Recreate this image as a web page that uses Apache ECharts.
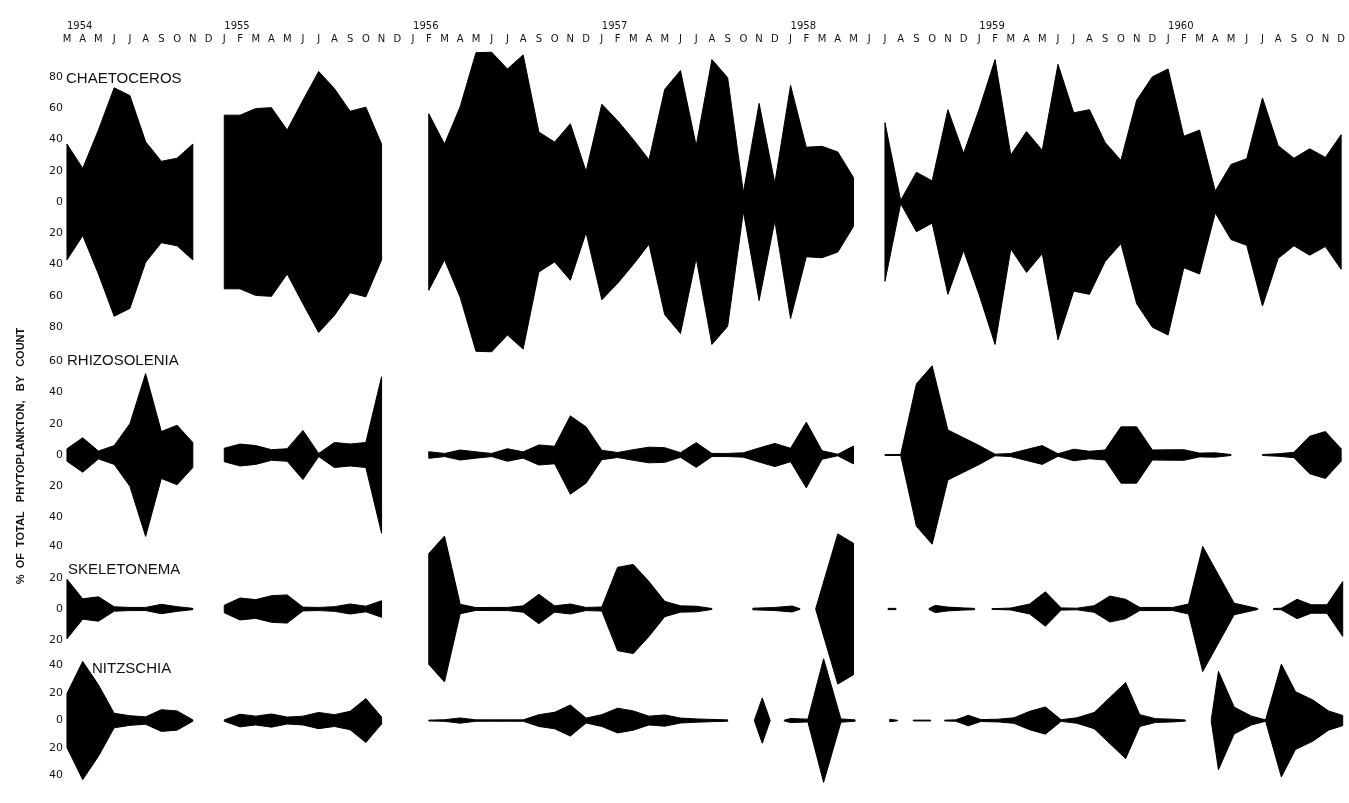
<!DOCTYPE html>
<html>
<head>
<meta charset="utf-8">
<script src="https://cdn.jsdelivr.net/npm/echarts/dist/echarts.min.js"></script>
<style>
html, body { margin: 0; padding: 0; background: #fff; }
#chart { width: 1349px; height: 803px; }
</style>
</head>
<body>
<div id="chart"></div>
<script>
// 月ラベル (1954年3月〜1960年12月)
const monthLetters = ['J', 'F', 'M', 'A', 'M', 'J', 'J', 'A', 'S', 'O', 'N', 'D'];
const years = ['1954', '1955', '1956', '1957', '1958', '1959', '1960'];
const firstMonth = 2; // 1954年はMから
const monthCount = 82;

const speciesNames = ['CHAETOCEROS', 'RHIZOSOLENIA', 'SKELETONEMA', 'NITZSCHIA'];
const yTitle = '%  OF  TOTAL   PHYTOPLANKTON,   BY   COUNT';

// 目盛りラベル (中心から外側へ、下側は負)
const chaetocerosTicks = [80, 60, 40, 20, 0, -20, -40, -60, -80];
const rhizosoleniaTicks = [60, 40, 20, 0, -20, -40];
const skeletonemaTicks = [40, 20, 0, -20];
const nitzschiaTicks = [40, 20, 0, -20, -40];

// 各セグメント: [開始月 or 月位置の配列, 値の配列]  (月0 = 1954年3月)
const chaetoceros = [
    [0, [37, 21.5, 46, 73, 68, 38.5, 26, 28, 37]],
    [10, [55.5, 55.5, 59.7, 60.3, 46, 65, 83.4, 72.5, 58, 60.6, 37]],
    [23, [56.4, 37, 61, 95.4, 95.7, 85, 94, 44.7, 38.3, 50, 19.5, 62.5, 52, 40, 27, 72, 84, 36, 91, 79.5, 6, 63, 12, 74.5, 35, 35.6, 32, 15.6]],
    [52, [50.7, 1, 19, 13.5, 59, 31, 59.6, 91, 30, 45, 33, 88, 57, 59, 38, 26.6, 65, 80, 85, 42, 46, 7, 24, 27.7, 66.5, 36, 28, 34, 28.5, 43]]
];

const rhizosolenia = [
    [0, [4, 11, 2.5, 6, 20, 52, 15, 19, 8]],
    [10, [4.3, 7, 6, 3.4, 4, 15.7, 1, 8, 7, 8, 50]],
    [23, [2.1, 1, 3.2, 2, 1, 4, 2, 6.4, 5.6, 25, 18, 3, 1.6, 3.4, 5, 4.7, 1.5, 7.9, 1, 1, 1.4, 4.5, 7.4, 4.3, 21, 2.7, 0.5, 5.7]],
    [52, [0.3, 0.3, 45.5, 57, 16, 11, 6, 0.5, 1, 3.5, 6, 0.8, 3.7, 2.4, 3.2, 18, 18, 3.2, 3.3, 3.4, 1.2, 1.4, 0.3]],
    [76, [0.3, 0.8, 1.7, 12, 15, 4]]
];

const skeletonema = [
    [0, [19, 6.5, 7.8, 1.4, 1, 1, 3, 1.5, 0.4]],
    [10, [2.4, 7, 6, 8.5, 9, 1.2, 1, 1.5, 3.2, 1.8, 5.3]],
    [23, [35.4, 46.6, 3, 0.9, 1, 1, 2, 9.4, 2, 3.2, 1, 1.3, 26.6, 28.5, 17.5, 4.9, 2, 1.8, 0.3]],
    [[43.6, 45, 46.1, 46.6], [0.5, 1, 1.9, 0.2]],
    [[47.6, 49, 50], [0.3, 48, 42]],
    [[52.2, 52.7], [0.4, 0.4]],
    [[54.8, 55.2, 56, 57, 57.7], [0.3, 2.3, 1.2, 0.7, 0.4]],
    [[58.8, 60, 61.2, 62.2, 63.2, 64.2, 65.3, 66.3, 67.3, 68.2, 70.3, 71.3, 72.2, 74.2, 75.7],
     [0.2, 0.6, 3.2, 11, 0.7, 0.5, 2.1, 8.3, 6.2, 1, 1, 3.2, 40, 3.7, 0.3]],
    [[76.7, 77.2, 78.2, 79.1, 80.1, 81.1], [0.3, 0.5, 6.2, 2.7, 2.7, 17.5]]
];

const nitzschia = [
    [0, [19.7, 43, 26, 5.3, 3.5, 2.7, 7.9, 7, 0.5]],
    [10, [0.5, 4.6, 3.2, 4.8, 2.5, 3.2, 5.9, 4.3, 6.7, 16, 2.5]],
    [23, [0.3, 0.6, 1.9, 0.5, 0.5, 0.5, 0.5, 4.3, 6, 11.3, 1.8, 4.3, 9, 7, 3.2, 4.1, 1.8, 1.2, 0.8, 0.5]],
    [[43.7, 44.2, 44.7], [0.2, 16.5, 0.2]],
    [[45.6, 46, 47.1, 48.1, 49.2, 50.1], [0.3, 1.5, 1, 45, 1.2, 0.5]],
    [[52.3, 52.8], [0.9, 0.2]],
    [[53.8, 54.9], [0.3, 0.3]],
    [[55.8, 56.5, 57.3, 58.1, 59.2, 60.2, 61.2, 62.2, 63.2, 64.2, 65.3, 67.3, 68.2, 69.2, 70.3, 71.1],
     [0.3, 0.5, 3.8, 0.7, 1, 2, 6.7, 9.9, 0.6, 2, 5.9, 27.7, 4.3, 1.4, 1, 0.4]],
    [[72.75, 73.2, 74.2, 75.3, 76.2, 77.2, 78.1, 79.2, 80.2, 81.1], [1, 35.8, 9.8, 3.2, 0.5, 41, 21, 15, 7, 3.7]]
];

// レイアウト
const MONTH_PX = 15.78;
const PX_PER_UNIT = 1.565;
const GRID_LEFT = 67 - 0.5 * MONTH_PX;
const GRID_WIDTH = monthCount * MONTH_PX;
const FONT = 'DejaVu Sans';

const panels = [
    { data: chaetoceros, ticks: chaetocerosTicks, center: 202, range: 100, label: [66, 80] },
    { data: rhizosolenia, ticks: rhizosoleniaTicks, center: 455, range: 60, label: [67, 362] },
    { data: skeletonema, ticks: skeletonemaTicks, center: 609, range: 60, label: [68, 571] },
    { data: nitzschia, ticks: nitzschiaTicks, center: 732, range: 60, label: [92, 670] }
];

// 月ラベルと年ラベル
const monthKeys = [];
const monthLabels = [];
const yearLabels = [];
for (let i = 0; i < monthCount; i++) {
    const abs = firstMonth + i;
    monthKeys.push(String(i));
    monthLabels.push(monthLetters[abs % 12]);
    yearLabels.push(abs % 12 === 0 || i === 0 ? years[Math.floor(abs / 12)] : '');
}

// セグメントを [月位置, 値] の点列に展開
function segmentPoints(seg) {
    const pos = seg[0];
    return seg[1].map((v, j) => [Array.isArray(pos) ? pos[j] : pos + j, v]);
}

const grid = [];
const xAxis = [];
const yAxis = [];
const series = [];

panels.forEach((p, i) => {
    grid.push({
        left: GRID_LEFT,
        width: GRID_WIDTH,
        top: p.center - p.range * PX_PER_UNIT,
        height: 2 * p.range * PX_PER_UNIT
    });
    xAxis.push({ type: 'value', gridIndex: i, min: -0.5, max: monthCount - 0.5, show: false });
    yAxis.push({
        type: 'value',
        gridIndex: i,
        min: -p.range,
        max: p.range,
        interval: 20,
        axisLine: { show: false },
        axisTick: { show: false },
        splitLine: { show: false },
        axisLabel: {
            margin: -4,
            color: '#111',
            fontFamily: FONT,
            fontSize: 11,
            showMinLabel: true,
            showMaxLabel: true,
            formatter: v => (p.ticks.indexOf(v) >= 0 ? String(Math.abs(v)) : '')
        }
    });
    const segs = p.data.map(segmentPoints);
    // カイト図: 各セグメントを上下対称の多角形で描く
    series.push({
        type: 'custom',
        xAxisIndex: i,
        yAxisIndex: i,
        silent: true,
        data: segs.map(s => [s[0][0], 0]),
        renderItem: (params, api) => {
            const pts = segs[params.dataIndex];
            const upper = pts.map(q => api.coord([q[0], q[1]]));
            const lower = pts.slice().reverse().map(q => api.coord([q[0], -q[1]]));
            return {
                type: 'polygon',
                shape: { points: upper.concat(lower) },
                style: { fill: '#000', stroke: '#000', lineWidth: 1, lineJoin: 'miter' }
            };
        }
    });
});

// 上部の月・年ラベル軸
xAxis.push({
    type: 'category',
    gridIndex: 0,
    position: 'top',
    offset: 1,
    data: monthKeys,
    boundaryGap: true,
    axisLine: { show: false },
    axisTick: { show: false },
    axisLabel: {
        interval: 0,
        margin: 0,
        color: '#111',
        fontFamily: FONT,
        fontSize: 10,
        formatter: (v, idx) => monthLabels[idx]
    }
});
xAxis.push({
    type: 'category',
    gridIndex: 0,
    position: 'top',
    offset: 14,
    data: monthKeys,
    boundaryGap: true,
    axisLine: { show: false },
    axisTick: { show: false },
    axisLabel: {
        interval: 0,
        margin: 0,
        align: 'left',
        color: '#111',
        fontFamily: FONT,
        fontSize: 10,
        formatter: (v, idx) => yearLabels[idx]
    }
});

const graphic = panels.map((p, i) => ({
    type: 'text',
    left: p.label[0],
    top: p.label[1] - 9,
    style: {
        text: speciesNames[i],
        fill: '#111',
        font: '15px "Liberation Sans"'
    }
}));
graphic.push({
    type: 'text',
    x: 21,
    y: 456,
    rotation: Math.PI / 2,
    style: {
        text: yTitle,
        fill: '#111',
        font: 'bold 11px "Liberation Sans"',
        align: 'center',
        verticalAlign: 'middle'
    }
});

const chart = echarts.init(document.getElementById('chart'));
chart.setOption({
    animation: false,
    backgroundColor: '#fff',
    grid: grid,
    xAxis: xAxis,
    yAxis: yAxis,
    series: series,
    graphic: graphic
});
</script>
</body>
</html>
